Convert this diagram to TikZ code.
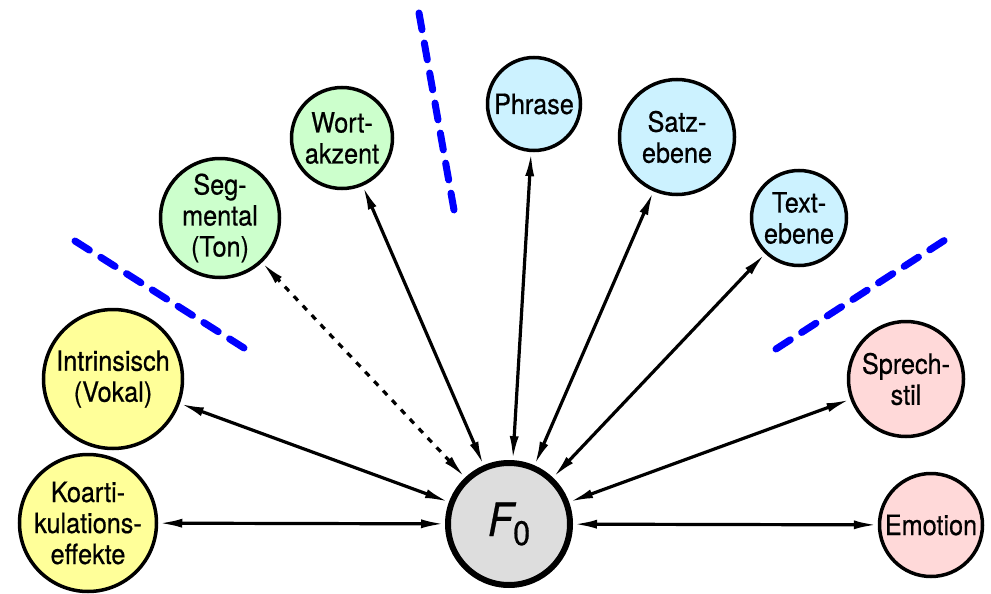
\documentclass[tikz,border=0pt]{standalone}
\usepackage{fontspec}
\setmainfont{TeX Gyre Heros}[FakeStretch=0.9,FakeBold=0.6]
\usetikzlibrary{arrows.meta}
\definecolor{cyel}{HTML}{FFFF99}
\definecolor{cgrn}{HTML}{CCFFCC}
\definecolor{ccya}{HTML}{CCF2FF}
\definecolor{cpnk}{HTML}{FFD9D9}
\definecolor{cgry}{HTML}{DDDDDD}
\begin{document}
\begin{tikzpicture}[x=1pt,y=-1pt,
  bub/.style={circle,draw,line width=3.5pt,inner sep=0pt,align=center,
    font=\fontsize{28}{31}\selectfont},
  con/.style={line width=3.2pt,{Latex[length=24pt,width=9pt]}-{Latex[length=24pt,width=9pt]}},
  dcon/.style={con,dash pattern=on 6pt off 7pt},
  sepline/.style={draw=blue,line width=7pt,line cap=round,dash pattern=on 17pt off 13.5pt}]
\useasboundingbox (0,0) rectangle (991,594);
\node[circle,draw,line width=6pt,fill=cgry,minimum size=122pt,inner sep=0pt] (f0) at (509,524)
  {{\fontsize{46}{46}\selectfont\itshape F}{\fontsize{34}{34}\selectfont\raisebox{-9pt}{0}}};
\node[bub,fill=cyel,minimum size=137pt] (koart) at (88,523) {Koarti-\\kulations-\\effekte};
\node[bub,fill=cyel,minimum size=139pt] (intr) at (113,379) {Intrinsisch\\(Vokal)};
\node[bub,fill=cgrn,minimum size=119pt] (segm) at (220,218) {Seg-\\mental\\(Ton)};
\node[bub,fill=cgrn,minimum size=101pt] (wort) at (342,138) {Wort-\\akzent};
\node[bub,fill=ccya,minimum size=93pt] (phr) at (534,104) {Phrase};
\node[bub,fill=ccya,minimum size=115pt] (satz) at (677,137) {Satz-\\ebene};
\node[bub,fill=ccya,minimum size=95pt] (text) at (799,218) {Text-\\ebene};
\node[bub,fill=cpnk,minimum size=115pt] (spr) at (906,379) {Sprech-\\stil};
\node[bub,fill=cpnk,minimum size=103pt] (emo) at (931,525) {Emotion};
\draw[con] (f0) -- (koart);
\draw[con] (f0) -- (intr);
\draw[dcon] (f0) -- (segm);
\draw[con] (f0) -- (wort);
\draw[con] (f0) -- (phr);
\draw[con] (f0) -- (satz);
\draw[con] (f0) -- (text);
\draw[con] (f0) -- (spr);
\draw[con] (f0) -- (emo);
\coordinate (s1a) at (75,241);
\coordinate (s1b) at (244,348);
\coordinate (s2a) at (419,13);
\coordinate (s2b) at (454,210);
\coordinate (s3a) at (776,349);
\coordinate (s3b) at (945,240);
\draw[sepline] (s1a) -- (s1b);
\draw[sepline] (s2a) -- (s2b);
\draw[sepline] (s3a) -- (s3b);
\end{tikzpicture}
\end{document}
